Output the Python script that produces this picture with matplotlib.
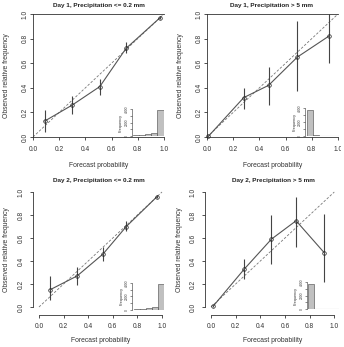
import matplotlib
matplotlib.use("Agg")
import matplotlib.pyplot as plt
from matplotlib.transforms import Bbox, TransformedBbox

plt.rcParams['font.family'] = ['Liberation Sans', 'DejaVu Sans']

W, H = 344, 347

titles = ["Day 1, Precipitation <= 0.2 mm", "Day 1, Precipitation > 5 mm",
          "Day 2, Precipitation <= 0.2 mm", "Day 2, Precipitation > 5 mm"]
x_label = "Forecast probability"
y_label = "Observed relative frequency"
tick_vals = [0.0, 0.2, 0.4, 0.6, 0.8, 1.0]
tick_labels = ["0.0", "0.2", "0.4", "0.6", "0.8", "1.0"]

# Day 1, <= 0.2 mm
fc_d1_low = [0.09, 0.30, 0.51, 0.71, 0.97]
obs_d1_low = [0.13, 0.26, 0.41, 0.72, 0.97]
lo_d1_low = [0.04, 0.19, 0.34, 0.68, 0.96]
hi_d1_low = [0.22, 0.33, 0.47, 0.77, 0.98]
# Day 1, > 5 mm
fc_d1_high = [0.01, 0.28, 0.47, 0.69, 0.93]
obs_d1_high = [0.005, 0.32, 0.42, 0.65, 0.82]
lo_d1_high = [0.0, 0.23, 0.26, 0.37, 0.60]
hi_d1_high = [0.01, 0.40, 0.57, 0.94, 1.0]
# Day 2, <= 0.2 mm
fc_d2_low = [0.09, 0.31, 0.52, 0.71, 0.96]
obs_d2_low = [0.15, 0.27, 0.46, 0.70, 0.96]
lo_d2_low = [0.06, 0.19, 0.40, 0.66, 0.95]
hi_d2_low = [0.27, 0.35, 0.52, 0.75, 0.97]
# Day 2, > 5 mm
fc_d2_high = [0.02, 0.27, 0.49, 0.69, 0.92]
obs_d2_high = [0.01, 0.33, 0.59, 0.75, 0.47]
lo_d2_high = [0.0, 0.24, 0.37, 0.52, 0.22]
hi_d2_high = [0.02, 0.42, 0.80, 0.96, 0.81]

# inset histograms of forecast probabilities
hist_bin_centers = [0.1, 0.3, 0.5, 0.7, 0.9]
hist_d1_low = [120, 170, 260, 380, 3900]
hist_d1_high = [3750, 60, 15, 8, 4]
hist_d2_low = [110, 160, 260, 380, 3900]
hist_d2_high = [3750, 60, 15, 8, 4]
hist_ticks = [0, 1000, 2000, 3000, 4000]
hist_tick_labels = ["0", "", "2000", "", "4000"]
hist_label = "Frequency"

panels = [
    (fc_d1_low, obs_d1_low, lo_d1_low, hi_d1_low, hist_d1_low),
    (fc_d1_high, obs_d1_high, lo_d1_high, hi_d1_high, hist_d1_high),
    (fc_d2_low, obs_d2_low, lo_d2_low, hi_d2_low, hist_d2_low),
    (fc_d2_high, obs_d2_high, lo_d2_high, hi_d2_high, hist_d2_high),
]

fig = plt.figure(figsize=(W / 100, H / 100), dpi=100)
fig.patch.set_facecolor('white')


def px_axes(left, top, right, bottom):
    return fig.add_axes([left / W, 1 - bottom / H, (right - left) / W, (bottom - top) / H])


# layout: (x0px, x1px, y0px, y1px, xlim, ylim, top-row style)
layouts = [
    dict(x0=33, x1=164, y0=137, y1=14, xlim=(0, 1), ylim=(0, 1), top=True,
         title_xy=(98.5, 5.7), xl_y=166, yl_x=6.5, inset=(131.5, 109.3, 163.5, 136)),
    dict(x0=207, x1=338, y0=137, y1=14, xlim=(0, 1), ylim=(0, 1), top=True,
         title_xy=(272, 5.7), xl_y=166, yl_x=180.5, inset=(305, 108.3, 338.5, 135.7)),
    dict(x0=39, x1=162, y0=307, y1=192, xlim=(-0.049, 1.04), ylim=(-0.07, 1.04), top=False,
         title_xy=(99, 180.7), xl_y=341, yl_x=6.5, inset=(132, 283, 163.5, 309.7)),
    dict(x0=211, x1=334.3, y0=307, y1=192, xlim=(-0.049, 1.04), ylim=(-0.07, 1.04), top=False,
         title_xy=(273, 180.7), xl_y=341, yl_x=179.5, inset=(306.5, 282, 339, 309.3)),
]

axis_col = '#333333'
line_col = '#555555'
err_col = '#444444'

for i, (lay, (fc, obs, lo, hi, hist)) in enumerate(zip(layouts, panels)):
    sx = (lay['x1'] - lay['x0'])
    sy = (lay['y0'] - lay['y1'])
    left = lay['x0'] + lay['xlim'][0] * sx
    right = lay['x0'] + lay['xlim'][1] * sx
    bottom = lay['y0'] - lay['ylim'][0] * sy
    top = lay['y0'] - lay['ylim'][1] * sy
    ax = px_axes(left, top, right, bottom)
    ax.set_xlim(*lay['xlim'])
    ax.set_ylim(*lay['ylim'])
    ax.set_facecolor('none')

    ax.plot([0, 1], [0, 1], linestyle=(0, (3, 2)), color='#777777', lw=0.6, zorder=1)
    ax.vlines(fc, lo, hi, color=err_col, lw=0.8, zorder=2)
    ax.plot(fc, obs, color=line_col, lw=0.8, marker='o', ms=2.6, mfc='none',
            mec='#222222', mew=0.5, zorder=3, clip_on=False)

    for s in ['right']:
        ax.spines[s].set_visible(False)
    if lay['top']:
        ax.spines['top'].set_visible(True)
        ypad, xpad = 1.0, 4.6
    else:
        ax.spines['top'].set_visible(False)
        ax.spines['left'].set_bounds(0, 1)
        ax.spines['bottom'].set_bounds(0, 1)
        ypad, xpad = 4.0, 3.4
    for s in ['left', 'bottom', 'top']:
        ax.spines[s].set_color(axis_col)
        ax.spines[s].set_linewidth(0.6)
    ax.set_xticks(tick_vals)
    ax.set_xticklabels(tick_labels)
    ax.set_yticks(tick_vals)
    ax.set_yticklabels(tick_labels)
    ax.tick_params(axis='both', length=2.2, width=0.6, color=axis_col,
                   labelsize=4.8, labelcolor='#333333')
    ax.tick_params(axis='x', pad=xpad)
    ax.tick_params(axis='y', pad=ypad)
    for lab in ax.get_yticklabels():
        lab.set_rotation(90)
        lab.set_va('center')
    if i == 1:
        clip = TransformedBbox(Bbox([[0.5, 0.0], [340.5 / W, 1.0]]), fig.transFigure)
        for lab in ax.get_xticklabels():
            lab.set_clip_box(clip)
            lab.set_clip_on(True)

    tx, ty = lay['title_xy']
    fig.text(tx / W, 1 - ty / H, titles[i], ha='center', va='center',
             fontsize=4.6, fontweight='bold', color='#222222')
    fig.text((lay['x0'] + lay['x1']) / 2 / W, 1 - lay['xl_y'] / H, x_label,
             ha='center', va='center', fontsize=4.9, color='#333333')
    fig.text(lay['yl_x'] / W, 1 - (lay['y0'] + lay['y1']) / 2 / H, y_label,
             ha='center', va='center', rotation=90, fontsize=4.9, color='#333333')

    # inset histogram
    il, it, ir, ib = lay['inset']
    ia = px_axes(il, it, ir, ib)
    ia.set_facecolor('none')
    ia.bar(hist_bin_centers, hist, width=0.2, color='#c0c0c0', edgecolor='#444444',
           linewidth=0.4)
    ia.axhline(0, color='#aaaaaa', lw=0.8, zorder=0)
    ia.set_xlim(-0.05, 1.0)
    ia.set_ylim(0, 4000)
    for s in ['top', 'right', 'bottom']:
        ia.spines[s].set_visible(False)
    ia.spines['left'].set_linewidth(0.4)
    ia.spines['left'].set_color(axis_col)
    ia.set_xticks([])
    ia.set_yticks(hist_ticks)
    ia.set_yticklabels(hist_tick_labels)
    ia.tick_params(axis='y', length=1.2, width=0.4, pad=0.8, labelsize=2.4,
                   color=axis_col, labelcolor='#333333')
    for lab in ia.get_yticklabels():
        lab.set_rotation(90)
        lab.set_va('center')
    ia.set_ylabel(hist_label, fontsize=2.8, labelpad=1.2, color='#333333')

fig.savefig("out.png", dpi=100, facecolor='white')
